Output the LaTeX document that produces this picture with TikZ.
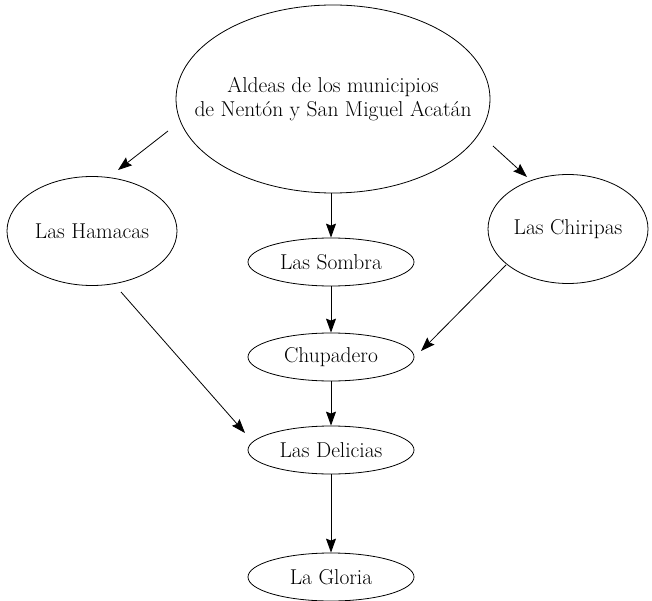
\documentclass[tikz,border=0pt]{standalone}
\usetikzlibrary{shapes.geometric,arrows.meta}
\begin{document}
\begin{tikzpicture}[x=1pt,y=-1pt,
  every node/.style={font=\fontsize{21.5}{24}\selectfont},
  oval/.style={ellipse,draw,line width=0.8pt,inner ysep=0pt,inner xsep=-40pt},
  small/.style={oval,minimum width=166pt,minimum height=48pt},
  conn/.style={line width=0.8pt,-{Stealth[length=14pt,width=10pt,inset=2pt]}}]
\useasboundingbox (0,0) rectangle (652,601);
\node[oval,minimum width=314pt,minimum height=188pt,align=center] (top) at (333,99) {Aldeas de los municipios\\de Nentón y San Miguel Acatán};
\node[oval,minimum width=170pt,minimum height=109pt] (ham) at (92,231) {Las Hamacas};
\node[oval,minimum width=160pt,minimum height=109pt] (chi) at (568,229) {Las Chiripas};
\node[small] (som) at (331,262) {Las Sombra};
\node[small] (chu) at (331,357) {Chupadero};
\node[small] (del) at (331,450) {Las Delicias};
\node[small] (glo) at (331,577) {La Gloria};
\coordinate (a1s) at (168,131);
\coordinate (a1e) at (118,170);
\coordinate (a2s) at (493,146);
\coordinate (a2e) at (527,177);
\coordinate (a4s) at (506,265);
\coordinate (a4e) at (421,351);
\coordinate (a5s) at (121,292);
\coordinate (a5e) at (245,433);
\draw[conn] (a1s) -- (a1e);
\draw[conn] (a2s) -- (a2e);
\draw[conn] (top.south -| som.north) -- (som.north);
\draw[conn] (som.south) -- (chu.north);
\draw[conn] (a4s) -- (a4e);
\draw[conn] (a5s) -- (a5e);
\draw[conn] (chu.south) -- (del.north);
\draw[conn] (del.south) -- (glo.north);
\end{tikzpicture}
\end{document}
